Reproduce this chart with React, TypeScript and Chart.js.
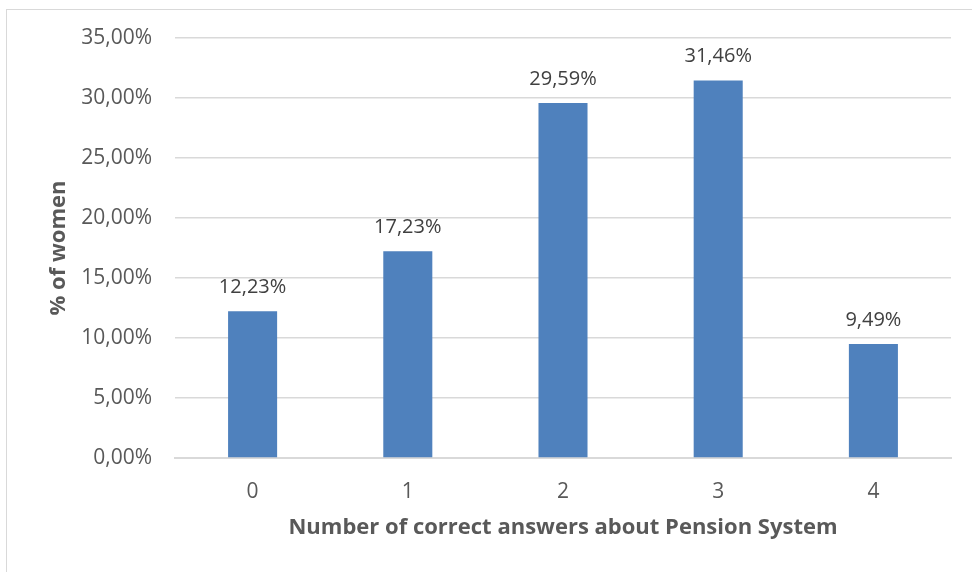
import React, { useEffect, useRef } from "react";
import { Chart, registerables } from "chart.js";

Chart.register(...registerables);

const categories = ["0", "1", "2", "3", "4"];
const shareOfWomen = [12.23, 17.23, 29.59, 31.46, 9.49];
const yTickValues = [0, 5, 10, 15, 20, 25, 30, 35];

const FONT = "'Open Sans', 'Liberation Sans', sans-serif";
const TEXT_GREY = "#595959";
const GRID_GREY = "#d9d9d9";
const BAR_BLUE = "#4f81bd";

const fmtPct = (v: number) => v.toFixed(2).replace(".", ",") + "%";

// Draws the value above each bar, e.g. "12,23%"
const valueLabels = {
  id: "valueLabels",
  afterDatasetsDraw(chart: any) {
    const { ctx } = chart;
    const meta = chart.getDatasetMeta(0);
    ctx.save();
    ctx.font = `20px ${FONT}`;
    ctx.fillStyle = "#404040";
    ctx.textAlign = "center";
    ctx.textBaseline = "bottom";
    meta.data.forEach((bar: any, i: number) => {
      ctx.fillText(fmtPct(shareOfWomen[i]), bar.x, bar.y - 14);
    });
    ctx.restore();
  },
};

export default function App() {
  const canvasRef = useRef<HTMLCanvasElement | null>(null);

  useEffect(() => {
    if (!canvasRef.current) return;
    const chart = new Chart(canvasRef.current, {
      type: "bar",
      data: {
        labels: categories,
        datasets: [
          {
            data: shareOfWomen,
            backgroundColor: BAR_BLUE,
            categoryPercentage: 1,
            barPercentage: 0.316,
          },
        ],
      },
      options: {
        animation: false,
        responsive: false,
        maintainAspectRatio: false,
        layout: { padding: { left: 0, top: 38, right: 21, bottom: 0 } },
        plugins: {
          legend: { display: false },
          tooltip: { enabled: false },
        },
        scales: {
          x: {
            grid: { display: false, drawTicks: false },
            border: { display: true, color: GRID_GREY, width: 2 },
            ticks: {
              color: TEXT_GREY,
              font: { family: FONT, size: 21 },
              padding: 21,
            },
            title: {
              display: true,
              text: "Number of correct answers about Pension System",
              color: TEXT_GREY,
              font: { family: FONT, size: 22, weight: "bold" },
              padding: { top: 0, bottom: 31 },
            },
            afterFit(scale: any) {
              scale.height = 114;
            },
          },
          y: {
            min: 0,
            max: 35,
            afterBuildTicks(scale: any) {
              scale.ticks = yTickValues.map((v) => ({ value: v }));
            },
            grid: {
              color: GRID_GREY,
              lineWidth: 1.5,
              drawTicks: false,
            },
            border: { display: false },
            ticks: {
              color: TEXT_GREY,
              font: { family: FONT, size: 21 },
              padding: 23,
              callback: (v: any) => fmtPct(Number(v)),
            },
            title: {
              display: true,
              text: "% of women",
              color: TEXT_GREY,
              font: { family: FONT, size: 22, weight: "bold" },
              padding: { top: 46, bottom: 0 },
            },
            afterFit(scale: any) {
              scale.width = 175;
            },
          },
        },
      },
      plugins: [valueLabels],
    });
    return () => chart.destroy();
  }, []);

  return (
    <div
      style={{
        position: "absolute",
        left: 0,
        top: 0,
        width: 972,
        height: 572,
        background: "#ffffff",
        overflow: "hidden",
      }}
    >
      <div
        style={{
          position: "absolute",
          left: 6,
          top: 9,
          width: 980,
          height: 600,
          borderLeft: `1.5px solid ${GRID_GREY}`,
          borderTop: `1.5px solid ${GRID_GREY}`,
        }}
      />
      <canvas
        ref={canvasRef}
        width={972}
        height={572}
        style={{ position: "absolute", left: 0, top: 0 }}
      />
    </div>
  );
}
